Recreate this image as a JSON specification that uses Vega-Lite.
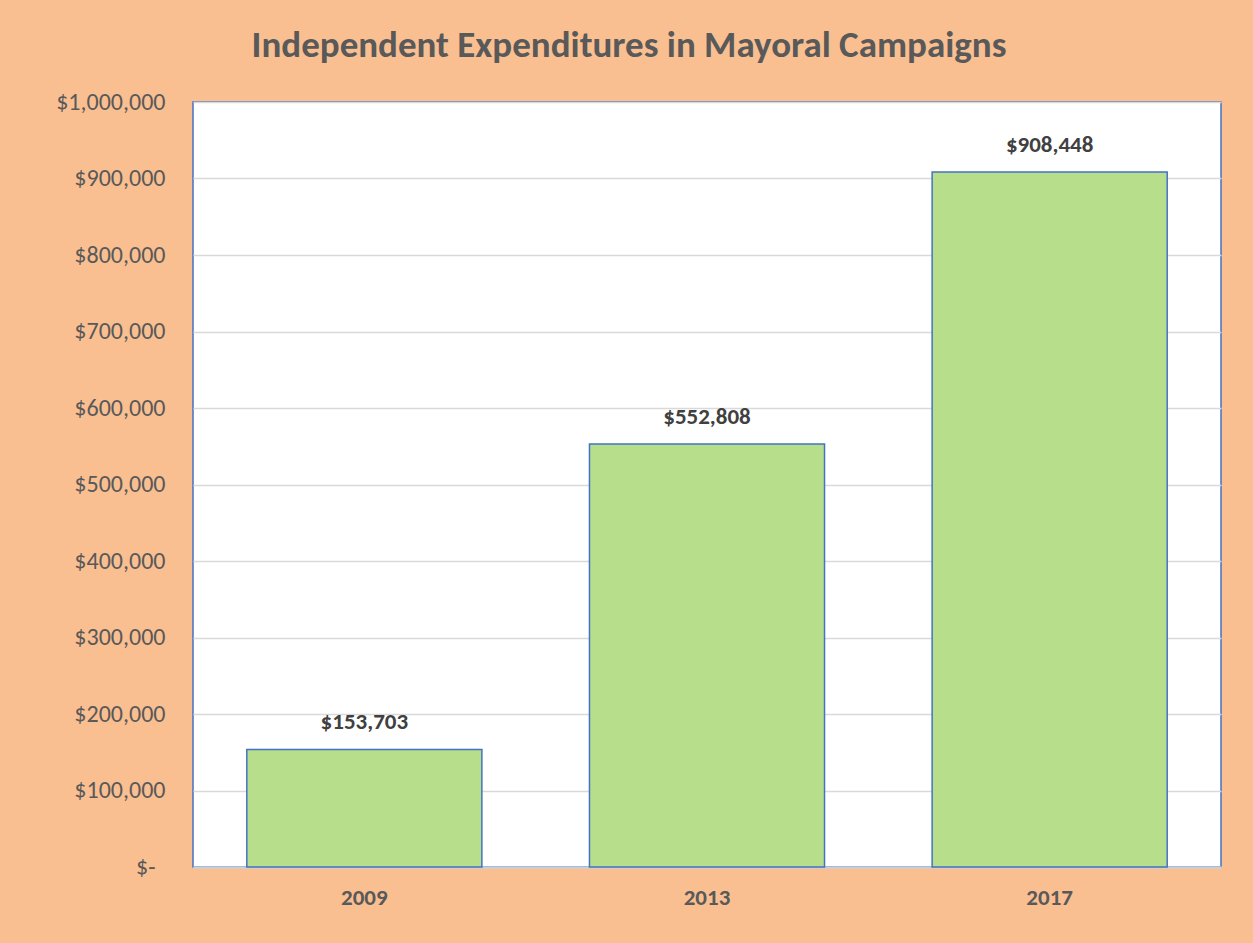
{
  "$schema": "https://vega.github.io/schema/vega-lite/v6.json",
  "autosize": "none",
  "width": 1028,
  "height": 765,
  "padding": {"left": 193, "top": 102, "right": 32, "bottom": 76},
  "background": "#f9bf91",
  "title": {
    "text": "Independent Expenditures in Mayoral Campaigns",
    "font": "Carlito, Lato, sans-serif",
    "fontSize": 37,
    "fontWeight": "bold",
    "color": "#595959",
    "anchor": "middle",
    "offset": 25,
    "dx": -78
  },
  "config": {
    "view": {"fill": "white", "stroke": "#4472c4", "strokeWidth": 1.5},
    "font": "Carlito, Lato, sans-serif"
  },
  "data": {
    "values": [
      {"year": "2009", "amount": 153703},
      {"year": "2013", "amount": 552808},
      {"year": "2017", "amount": 908448}
    ]
  },
  "encoding": {
    "x": {
      "field": "year",
      "type": "nominal",
      "sort": null,
      "scale": {"paddingInner": 0.314, "paddingOuter": 0.157},
      "axis": {
        "title": null,
        "labelAngle": 0,
        "labelFont": "Carlito, Lato, sans-serif",
        "labelFontSize": 23,
        "labelFontWeight": "bold",
        "labelColor": "#595959",
        "labelPadding": 19,
        "ticks": false,
        "domainColor": "#c5cedb",
        "domainWidth": 2,
        "grid": false
      }
    },
    "y": {
      "field": "amount",
      "type": "quantitative",
      "scale": {"domain": [0, 1000000], "nice": false},
      "axis": {
        "title": null,
        "values": [0, 100000, 200000, 300000, 400000, 500000, 600000, 700000, 800000, 900000, 1000000],
        "labelExpr": "datum.value == 0 ? '$-' : '$' + format(datum.value, ',')",
        "labelFont": "Carlito, Lato, sans-serif",
        "labelFontSize": 24,
        "labelColor": "#595959",
        "labelPadding": {"condition": {"test": "datum.value == 0", "value": 38}, "value": 28},
        "ticks": false,
        "domain": false,
        "gridColor": "#d9d9d9",
        "gridWidth": 1.5
      }
    }
  },
  "layer": [
    {
      "mark": {"type": "bar", "fill": "#b7de8a", "stroke": "#4472c4", "strokeWidth": 1.5}
    },
    {
      "mark": {
        "type": "text",
        "baseline": "alphabetic",
        "dy": -20,
        "fontSize": 23,
        "fontWeight": "bold",
        "color": "#404040"
      },
      "encoding": {
        "text": {"field": "amount", "type": "quantitative", "format": "$,"}
      }
    }
  ]
}
